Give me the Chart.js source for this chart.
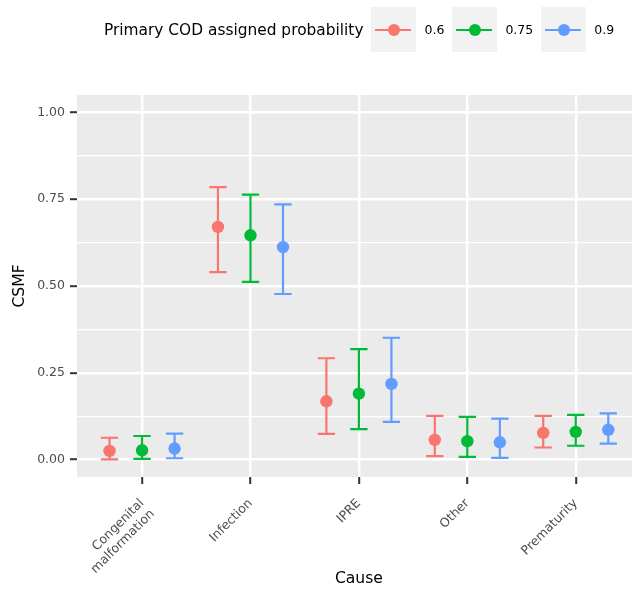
<!DOCTYPE html>
<html>
<head>
<meta charset="utf-8">
<script src="https://cdn.jsdelivr.net/npm/chart.js@4.4.1/dist/chart.umd.min.js"></script>
<style>
  html, body { margin: 0; padding: 0; background: #fff; overflow: hidden; }
  #wrap { position: relative; width: 632px; height: 592px; overflow: hidden; font-family: 'DejaVu Sans', sans-serif; }
  #chart { position: absolute; left: 0; top: 0; }
  #legend { position: absolute; left: 104px; top: 7px; display: flex; align-items: center; gap: 8px; color: #000; }
  #legend .title { font-size: 15.4px; }
  #legend .key { position: relative; width: 45px; height: 45px; background: #F2F2F2; }
  #legend .key .ln { position: absolute; left: 4px; width: 36px; top: 21.5px; height: 2px; }
  #legend .key .pt { position: absolute; left: 16.5px; top: 16.5px; width: 12px; height: 12px; border-radius: 50%; }
  #legend .lab { font-size: 12.5px; }
</style>
</head>
<body>
<div id="wrap">
  <!-- パネル右端は元図で切れているので、キャンバスを少し広く取る -->
  <canvas id="chart" width="647" height="592"></canvas>
  <div id="legend"></div>
</div>
<script>
// データ
const causes = [['Congenital', 'malformation'], 'Infection', 'IPRE', 'Other', 'Prematurity'];
const seriesNames = ['0.6', '0.75', '0.9'];
const seriesColors = ['#F8766D', '#00BA38', '#619CFF'];
const legendTitle = 'Primary COD assigned probability';

// 点推定値と区間（0.6 / 0.75 / 0.9）
const est06 = [0.025, 0.670, 0.168, 0.057, 0.077];
const low06 = [0.001, 0.540, 0.074, 0.010, 0.035];
const up06 = [0.063, 0.785, 0.292, 0.126, 0.126];

const est075 = [0.027, 0.646, 0.190, 0.053, 0.080];
const low075 = [0.002, 0.512, 0.088, 0.008, 0.040];
const up075 = [0.068, 0.763, 0.318, 0.123, 0.129];

const est09 = [0.032, 0.612, 0.218, 0.050, 0.086];
const low09 = [0.004, 0.477, 0.109, 0.005, 0.046];
const up09 = [0.075, 0.735, 0.351, 0.118, 0.133];

const yTicks = [0, 0.125, 0.25, 0.375, 0.5, 0.625, 0.75, 0.875, 1];
const yTickLabels = { 0: '0.00', 0.25: '0.25', 0.5: '0.50', 0.75: '0.75', 1: '1.00' };

const estimates = [est06, est075, est09];
const lowers = [low06, low075, low09];
const uppers = [up06, up075, up09];
const dodge = [-0.3, 0, 0.3];
const capHalf = 0.08;

const isMajor = v => Math.abs(v * 4 - Math.round(v * 4)) < 1e-6;

/**
 * 凡例（HTML）
 */
function buildLegend() {
  const el = document.getElementById('legend');
  const t = document.createElement('span');
  t.className = 'title';
  t.textContent = legendTitle;
  el.appendChild(t);
  seriesNames.forEach((name, s) => {
    const key = document.createElement('div');
    key.className = 'key';
    key.innerHTML = `<div class="ln" style="background:${seriesColors[s]}"></div>` +
      `<div class="pt" style="background:${seriesColors[s]}"></div>`;
    el.appendChild(key);
    const lab = document.createElement('span');
    lab.className = 'lab';
    lab.textContent = name;
    el.appendChild(lab);
  });
}

// パネル背景
const panelBg = {
  id: 'panelBg',
  beforeDraw(chart) {
    const { ctx, chartArea: a } = chart;
    ctx.save();
    ctx.fillStyle = '#EBEBEB';
    ctx.fillRect(a.left, a.top, a.right - a.left, a.bottom - a.top);
    ctx.restore();
  }
};

// エラーバー
const errorBars = {
  id: 'errorBars',
  beforeDatasetsDraw(chart) {
    const { ctx, chartArea: a, scales: { x, y } } = chart;
    ctx.save();
    ctx.beginPath();
    ctx.rect(a.left, a.top, a.right - a.left, a.bottom - a.top);
    ctx.clip();
    ctx.lineWidth = 2.2;
    seriesNames.forEach((name, s) => {
      ctx.strokeStyle = seriesColors[s];
      causes.forEach((c, i) => {
        const xv = i + 1 + dodge[s];
        const px = x.getPixelForValue(xv);
        const x0 = x.getPixelForValue(xv - capHalf);
        const x1 = x.getPixelForValue(xv + capHalf);
        const yl = y.getPixelForValue(lowers[s][i]);
        const yu = y.getPixelForValue(uppers[s][i]);
        ctx.beginPath();
        ctx.moveTo(px, yl); ctx.lineTo(px, yu);
        ctx.moveTo(x0, yl); ctx.lineTo(x1, yl);
        ctx.moveTo(x0, yu); ctx.lineTo(x1, yu);
        ctx.stroke();
      });
    });
    ctx.restore();
  }
};

buildLegend();

new Chart(document.getElementById('chart'), {
  type: 'scatter',
  data: {
    datasets: seriesNames.map((name, s) => ({
      label: name,
      data: estimates[s].map((v, i) => ({ x: i + 1 + dodge[s], y: v })),
      backgroundColor: seriesColors[s],
      borderColor: seriesColors[s],
      pointRadius: 6.2,
      pointBorderWidth: 0,
      pointHoverRadius: 6.2
    }))
  },
  options: {
    responsive: false,
    animation: false,
    events: [],
    layout: { padding: { left: 0, right: 0, top: 95, bottom: 0 } },
    plugins: {
      legend: { display: false },
      tooltip: { enabled: false }
    },
    scales: {
      x: {
        type: 'linear',
        min: 0.4,
        max: 5.6,
        afterBuildTicks: s => { s.ticks = causes.map((c, i) => ({ value: i + 1 })); },
        afterFit: s => { s.height = 592 - 477; s.paddingLeft = 0; s.paddingRight = 0; },
        border: { display: false },
        grid: { color: '#FFFFFF', lineWidth: 2.4, tickColor: '#333333', tickWidth: 2, tickLength: 7 },
        ticks: {
          autoSkip: false,
          minRotation: 45,
          maxRotation: 45,
          padding: 12,
          color: '#4D4D4D',
          font: { family: 'DejaVu Sans', size: 12.5 },
          callback: v => causes[Math.round(v) - 1]
        },
        title: {
          display: true,
          text: 'Cause',
          color: '#000000',
          font: { family: 'DejaVu Sans', size: 15.6 },
          padding: { top: 0, bottom: 4 }
        }
      },
      y: {
        min: -0.05,
        max: 1.05,
        afterBuildTicks: s => { s.ticks = yTicks.map(v => ({ value: v })); },
        afterFit: s => { s.width = 77; },
        border: { display: false },
        grid: {
          color: '#FFFFFF',
          lineWidth: c => isMajor(c.tick.value) ? 2.4 : 1.2,
          tickColor: c => isMajor(c.tick.value) ? '#333333' : 'rgba(0,0,0,0)',
          tickWidth: 2,
          tickLength: 7
        },
        ticks: {
          padding: 5,
          color: '#4D4D4D',
          font: { family: 'DejaVu Sans', size: 12.5 },
          callback: v => yTickLabels[v] !== undefined ? yTickLabels[v] : ''
        },
        title: {
          display: true,
          text: 'CSMF',
          color: '#000000',
          font: { family: 'DejaVu Sans', size: 15.6 },
          padding: { top: 11, bottom: 0 }
        }
      }
    }
  },
  plugins: [panelBg, errorBars]
});
</script>
</body>
</html>
